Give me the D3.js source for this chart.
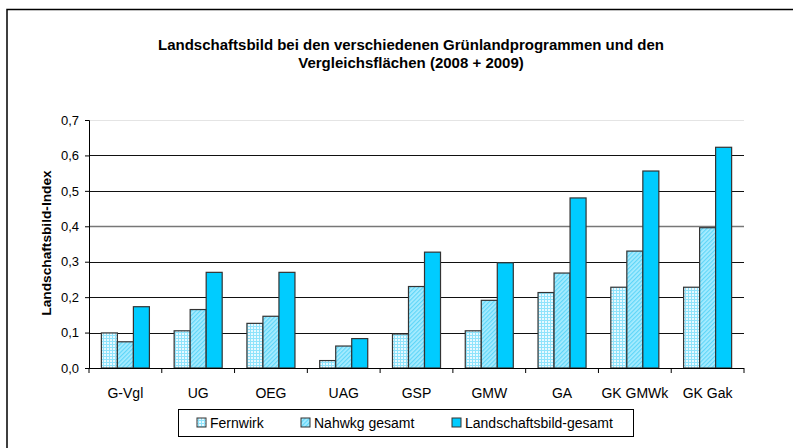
<!DOCTYPE html>
<html>
<head>
<meta charset="utf-8">
<script src="https://cdn.jsdelivr.net/npm/d3@7"></script>
<style>
  body { margin: 0; background: #fff; }
  svg text { font-family: "Liberation Sans", Arial, sans-serif; fill: #000; }
</style>
</head>
<body>
<script>
// data
var categories = ["G-Vgl", "UG", "OEG", "UAG", "GSP", "GMW", "GA", "GK GMWk", "GK Gak"];
var seriesNames = ["Fernwirk", "Nahwkg gesamt", "Landschaftsbild-gesamt"];
var fernwirk = [0.099, 0.105, 0.126, 0.021, 0.096, 0.105, 0.213, 0.228, 0.228];
var nahwkg = [0.074, 0.165, 0.146, 0.062, 0.230, 0.191, 0.268, 0.330, 0.396];
var landschaft = [0.173, 0.270, 0.270, 0.083, 0.327, 0.297, 0.480, 0.556, 0.623];
var yTicks = [0, 0.1, 0.2, 0.3, 0.4, 0.5, 0.6, 0.7];

var W = 793, H = 448;
var margin = {top: 120, right: 49, bottom: 80, left: 89};
var width = W - margin.left - margin.right,
    height = H - margin.top - margin.bottom;

var svg = d3.select("body").append("svg").attr("width", W).attr("height", H);

// patterns
var defs = svg.append("defs");
var pGrid = defs.append("pattern").attr("id", "pGrid")
    .attr("patternUnits", "userSpaceOnUse").attr("width", 3).attr("height", 3);
pGrid.append("rect").attr("width", 3).attr("height", 3).attr("fill", "#8fe3fb");
pGrid.append("rect").attr("width", 2).attr("height", 2).attr("fill", "#e8f9ff");

var pDiag = defs.append("pattern").attr("id", "pDiag")
    .attr("patternUnits", "userSpaceOnUse").attr("width", 3).attr("height", 3)
    .attr("patternTransform", "rotate(45)");
pDiag.append("rect").attr("width", 3).attr("height", 3).attr("fill", "#a8ecff");
pDiag.append("rect").attr("width", 1.2).attr("height", 3).attr("fill", "#5fd6f8");

var fills = ["url(#pGrid)", "url(#pDiag)", "#00ccff"];

// outer frame
svg.append("path")
    .attr("d", "M7," + H + "V9.5H" + W)
    .attr("fill", "none").attr("stroke", "#000").attr("stroke-width", 1.5);

// title
var title = svg.append("text").attr("x", 411).attr("y", 50)
    .attr("text-anchor", "middle").attr("font-weight", "bold").attr("font-size", "15px");
title.append("tspan").attr("x", 411).attr("dy", 0).text("Landschaftsbild bei den verschiedenen Grünlandprogrammen und den");
title.append("tspan").attr("x", 411).attr("dy", 18).text("Vergleichsflächen (2008 + 2009)");

var g = svg.append("g").attr("transform", "translate(" + margin.left + "," + margin.top + ")");

var x0 = d3.scaleBand().domain(categories).range([0, width]).paddingInner(0.34).paddingOuter(0.17);
var x1 = d3.scaleBand().domain(seriesNames).range([0, x0.bandwidth()]);
var y = d3.scaleLinear().domain([0, 0.7]).range([height, 0]);
var fmt = function (d) { return d3.format(".1f")(d).replace(".", ","); };

// gridlines
g.selectAll(".grid").data(yTicks.slice(1)).enter().append("line")
    .attr("x1", 0).attr("x2", width)
    .attr("y1", function (d) { return Math.round(y(d)) + 0.5; })
    .attr("y2", function (d) { return Math.round(y(d)) + 0.5; })
    .attr("stroke", function (d) { return d === 0.7 ? "#e4e4e4" : (d === 0.4 ? "#777" : "#111"); })
    .attr("stroke-width", function (d) { return d === 0.4 ? 1.5 : 1; });

// bars
var series = [fernwirk, nahwkg, landschaft];
series.forEach(function (vals, si) {
  g.selectAll(".bar" + si).data(vals).enter().append("rect")
      .attr("x", function (d, i) { return x0(categories[i]) + x1(seriesNames[si]); })
      .attr("y", function (d) { return y(d); })
      .attr("width", x1.bandwidth())
      .attr("height", function (d) { return height - y(d); })
      .attr("fill", fills[si])
      .attr("stroke", "#333").attr("stroke-width", 1.2);
});

// y axis
var yAxis = g.append("g")
    .call(d3.axisLeft(y).tickValues(yTicks).tickFormat(fmt).tickSizeOuter(0).tickSize(4).tickPadding(6));
yAxis.select(".domain").attr("stroke", "#000");
yAxis.selectAll("text").attr("font-size", "13px").attr("font-family", "Liberation Sans, Arial, sans-serif");

// x axis with ticks at category boundaries
var xg = g.append("g").attr("transform", "translate(0," + height + ")");
xg.append("line").attr("x1", 0).attr("x2", width).attr("y1", 0.5).attr("y2", 0.5).attr("stroke", "#000");
var step = x0.step();
xg.selectAll(".xt").data(d3.range(categories.length + 1)).enter().append("line")
    .attr("x1", function (i) { return i * step; }).attr("x2", function (i) { return i * step; })
    .attr("y1", 0).attr("y2", 5).attr("stroke", "#000");
xg.selectAll(".xl").data(categories).enter().append("text")
    .attr("x", function (d) { return x0(d) + x0.bandwidth() / 2; })
    .attr("y", 30).attr("text-anchor", "middle").attr("font-size", "14px")
    .text(function (d) { return d; });

// y label
svg.append("text")
    .attr("transform", "translate(51,243) rotate(-90)")
    .attr("text-anchor", "middle").attr("font-weight", "bold").attr("font-size", "13.7px")
    .text("Landschaftsbild-Index");

// legend
var lg = svg.append("g").attr("transform", "translate(178,409)");
lg.append("rect").attr("x", 0.5).attr("y", 0.5).attr("width", 455).attr("height", 27)
    .attr("fill", "#fff").attr("stroke", "#000");
var legX = [19, 123, 274];
seriesNames.forEach(function (n, i) {
  lg.append("rect").attr("x", legX[i]).attr("y", 9).attr("width", 9).attr("height", 9)
      .attr("fill", fills[i]).attr("stroke", "#333");
  lg.append("text").attr("x", legX[i] + 13).attr("y", 19).attr("font-size", "14px").text(n);
});
</script>
</body>
</html>
